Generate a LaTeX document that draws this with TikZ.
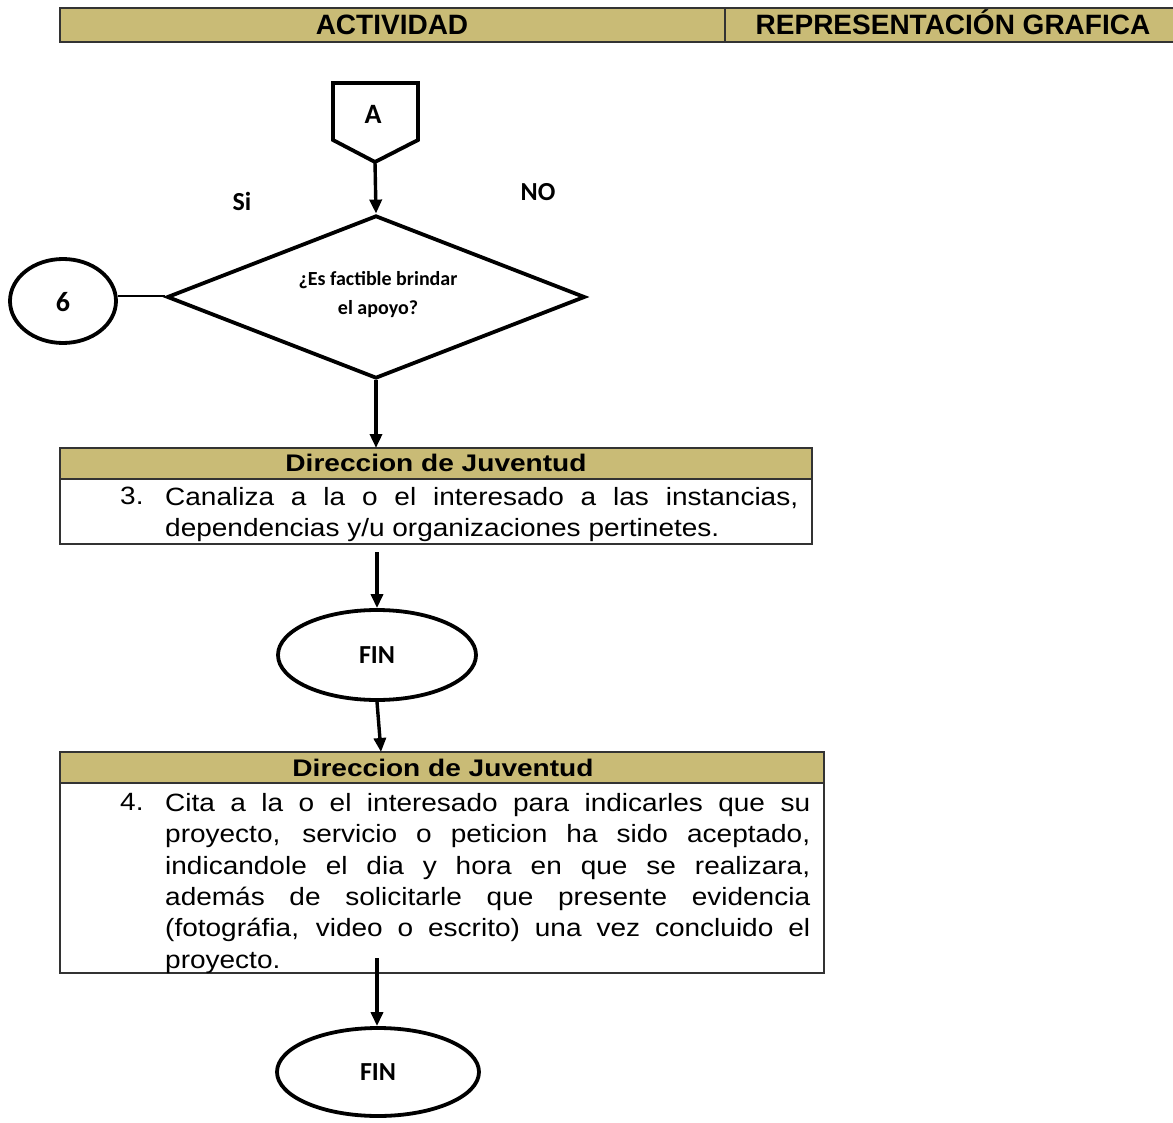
\documentclass[tikz,border=0pt]{standalone}
\usepackage{fontspec}
\setmainfont{Liberation Sans}
\newfontfamily\calib{Carlito}
\newfontfamily\wide[FakeStretch=1.17]{Liberation Sans}
\newfontfamily\bodyface[FakeStretch=1.12]{Liberation Sans}
\usetikzlibrary{shapes.geometric,arrows.meta}
\definecolor{khaki}{RGB}{201,187,118}
\newcommand\nohyph{\hyphenpenalty=10000 \exhyphenpenalty=10000 }
\tikzset{
  x=1pt,y=-1pt,
  bar/.style={draw=black!80,line width=1.3pt,fill=khaki},
  bodybox/.style={draw=black!80,line width=1.3pt,fill=white},
  shapeline/.style={draw=black,line width=3.8pt},
  flow/.style={draw=black,line width=3.4pt,-{Triangle[length=14pt,width=12pt]}},
  bodytext/.style={font=\bodyface\fontsize{25}{31.4}\selectfont,inner sep=0pt,anchor=north west,align=justify},
  numtext/.style={font=\bodyface\fontsize{25}{31.4}\selectfont,inner sep=0pt,anchor=north west},
  headtext/.style={font=\wide\fontsize{24}{28}\selectfont\bfseries,inner sep=0pt,anchor=base},
  toptext/.style={font=\fontsize{28}{32}\selectfont\bfseries,inner sep=0pt,anchor=base},
  cal/.style={font=\calib\bfseries\fontsize{26}{30}\selectfont,inner sep=0pt},
  calbig/.style={font=\calib\bfseries\fontsize{28}{32}\selectfont,inner sep=0pt},
}
\begin{document}
\begin{tikzpicture}
\useasboundingbox[fill=white] (0,0) rectangle (1173,1123);

% column headings
\path[bar] (60,8) rectangle (1180,42);
\draw[black!80,line width=1.3pt] (725,8) -- (725,42);
\node[toptext] (hact) at (392,35) {ACTIVIDAD};
\node[toptext] (hrep) at (953,35) {REPRESENTACIÓN GRAFICA};

% off-page connector A
\draw[shapeline,line join=miter] (333,83) -- (418,83) -- (418,140) -- (375,162) -- (333,140) -- cycle;
\coordinate (Abot) at (375,162);
\node[calbig] (A) at (373,114) {A};

% decision
\node[shapeline,diamond,minimum width=418pt,minimum height=163pt,inner sep=0pt,aspect=2.56] (dec) at (376,297) {};
\node[font=\calib\bfseries\fontsize{20}{29}\selectfont,align=center,inner sep=0pt] (dectext) at (378,295) {¿Es factible brindar\\el apoyo?};
\node[cal] (si) at (242,201) {Si};
\node[cal] (no) at (538,192) {NO};

% connector 6
\node[shapeline,ellipse,minimum width=106pt,minimum height=84pt,inner sep=0pt] (six) at (63,301) {};
\node[calbig] (sixtext) at (63,302) {6};
\draw[black,line width=1.3pt] (six.east |- 0,296) -- (dec.west |- 0,296);

% step 3
\path[bar] (60,448) rectangle (812,479);
\node[headtext] (h3) at (436,471) {Direccion de Juventud};
\path[bodybox] (60,479) rectangle (812,544);
\coordinate (b3top) at (376,448);
\node[numtext] (n3) at (120,487) {3.};
\node[bodytext,text width=633pt] (t3) at (165,487) {\nohyph Canaliza a la o el interesado a las instancias,\linebreak dependencias y/u organizaciones pertinetes.};

% FIN 1
\node[shapeline,ellipse,minimum width=198pt,minimum height=90pt,inner sep=0pt] (fin1) at (377,655) {};
\node[cal] (fin1t) at (377,655) {FIN};
\coordinate (s3) at (377,552);

% step 4
\path[bar] (60,752) rectangle (824,783);
\node[headtext] (h4) at (443,776) {Direccion de Juventud};
\path[bodybox] (60,783) rectangle (824,973);
\coordinate (b4top) at (381,752);
\node[numtext] (n4) at (120,793) {4.};
\node[bodytext,text width=645pt] (t4) at (165,793) {\nohyph Cita a la o el interesado para indicarles que su\linebreak proyecto, servicio o peticion ha sido aceptado,\linebreak indicandole el dia y hora en que se realizara,\linebreak además de solicitarle que presente evidencia\linebreak (fotográfia, video o escrito) una vez concluido el\linebreak proyecto.};

% FIN 2
\node[shapeline,ellipse,minimum width=202pt,minimum height=88pt,inner sep=0pt] (fin2) at (378,1072) {};
\node[cal] (fin2t) at (378,1072) {FIN};
\coordinate (s4) at (377,958);

% flow
\draw[flow] (Abot) -- (dec.north);
\draw[flow] (dec.south) -- (b3top);
\draw[flow] (s3) -- (fin1.north);
\draw[flow] (fin1.south) -- (b4top);
\draw[flow] (s4) -- (s4 |- fin2.north);
\end{tikzpicture}
\end{document}
